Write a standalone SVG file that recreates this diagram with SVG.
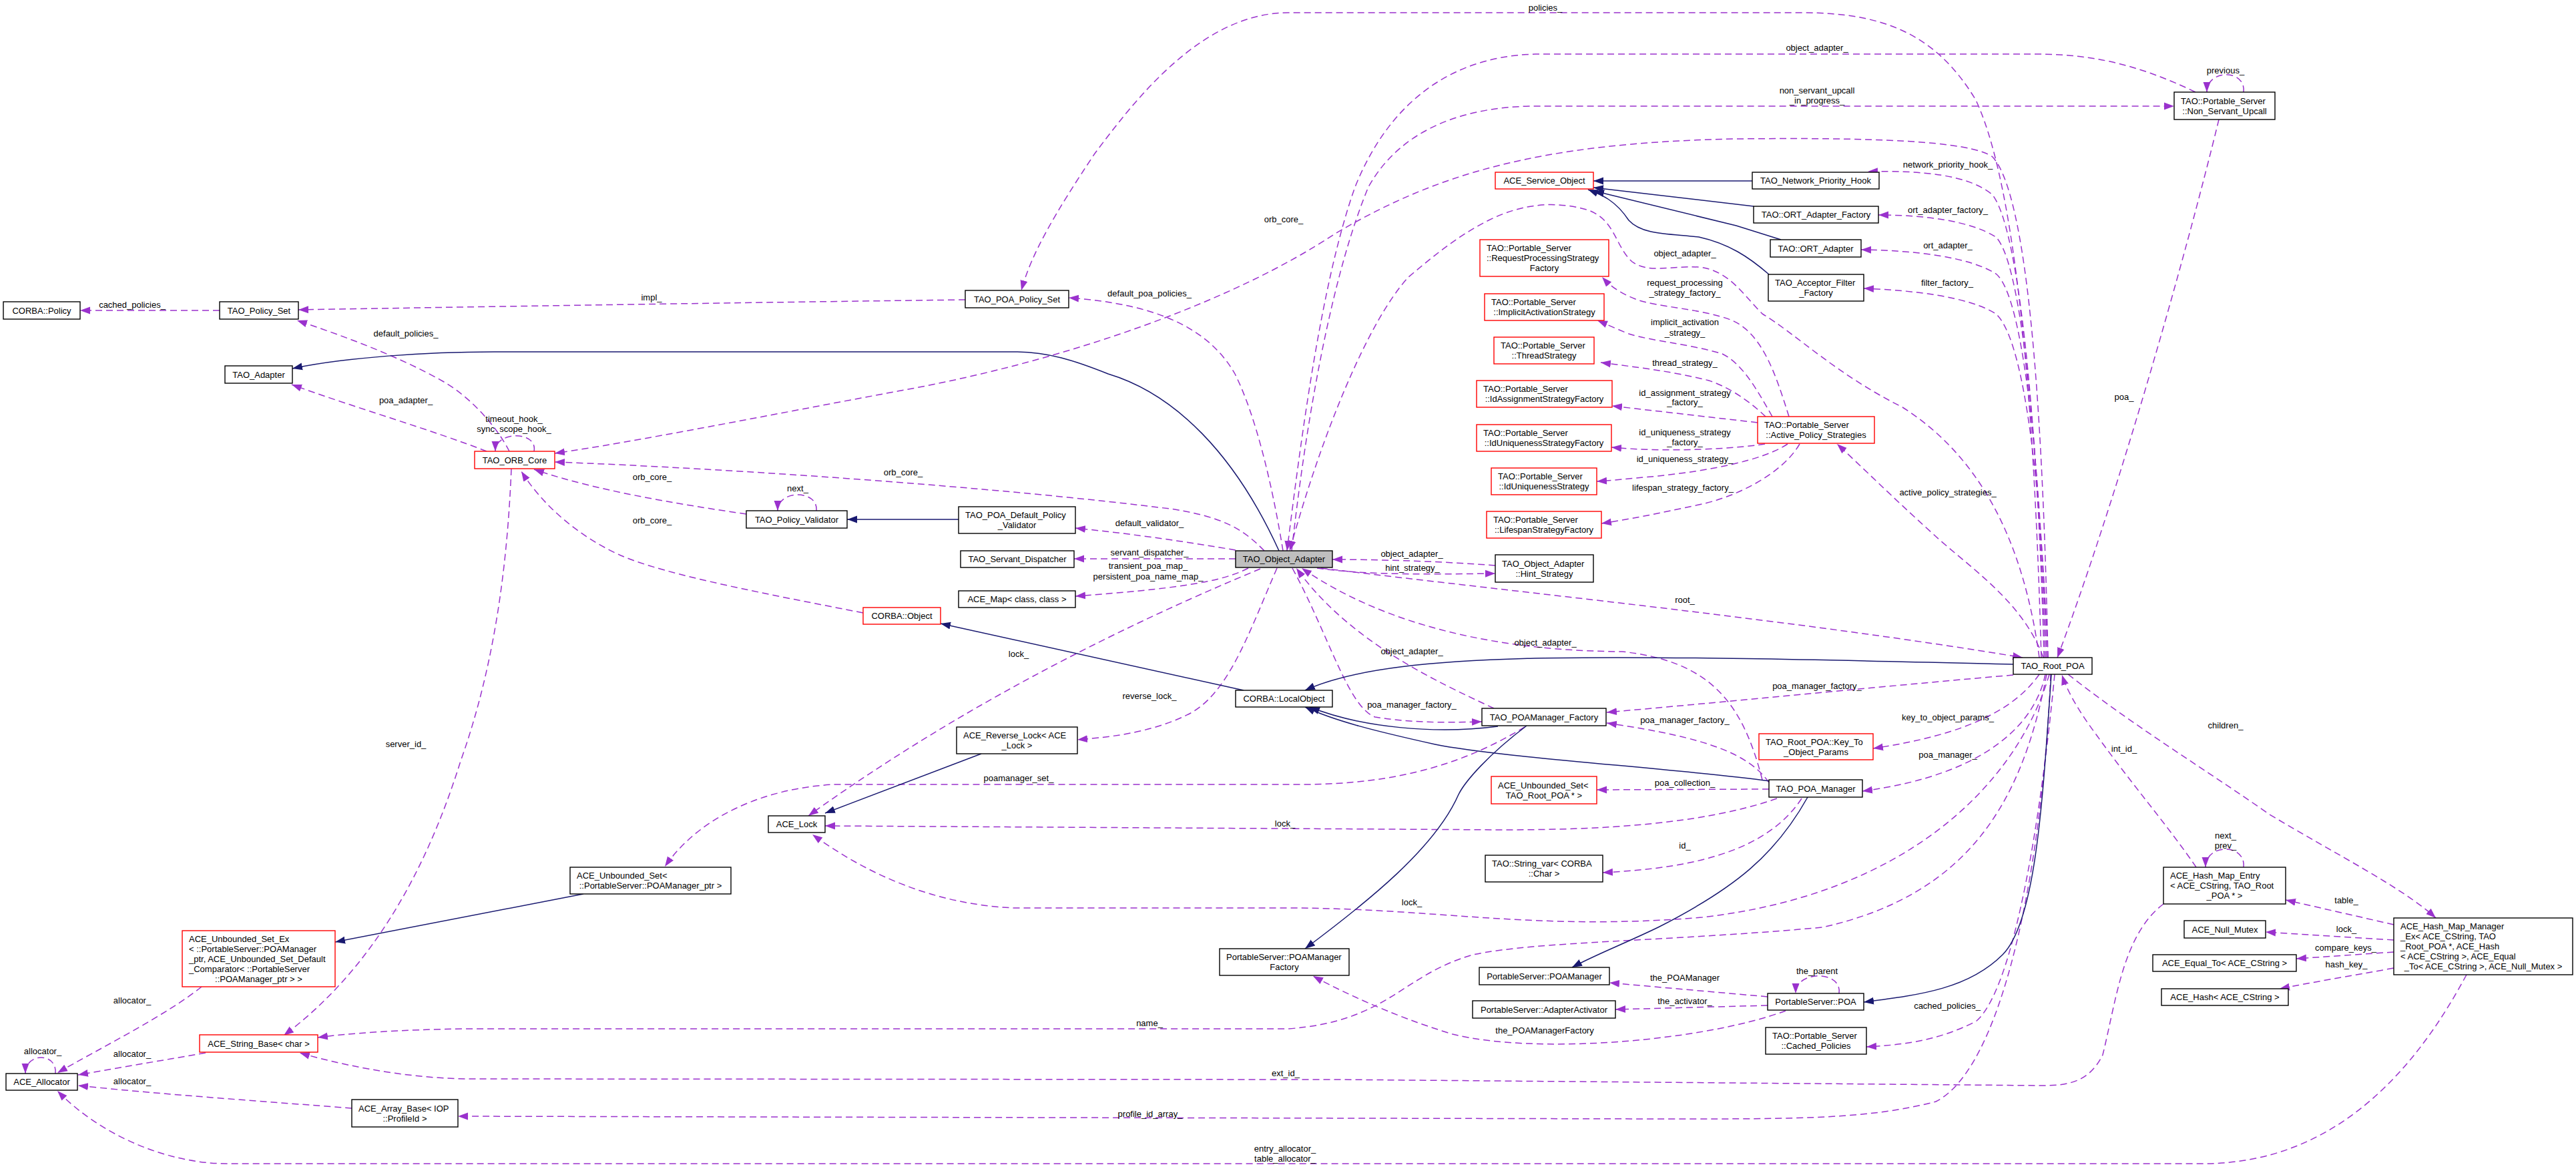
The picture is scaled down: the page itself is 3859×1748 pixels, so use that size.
<svg xmlns="http://www.w3.org/2000/svg" width="3859" height="1748" viewBox="0 0 3859 1748">
<style>
text{font-family:"Liberation Sans",Arial,sans-serif;font-size:13px;fill:#000}
.m{text-anchor:middle}
.n rect{fill:#fff;stroke:#000;stroke-width:1.4}
.r rect{fill:#fff;stroke:#ff0000;stroke-width:1.4}
.g rect{fill:#bfbfbf;stroke:#000;stroke-width:1.4}
.d{fill:none;stroke:#9a32cd;stroke-width:1.5;stroke-dasharray:10,6;marker-end:url(#ap)}
.b{fill:none;stroke:#191970;stroke-width:1.5;marker-end:url(#ab)}
</style>
<defs>
<marker id="ap" markerUnits="userSpaceOnUse" markerWidth="16" markerHeight="12" refX="15" refY="6" orient="auto"><path d="M0,0.5 L15,6 L0,11.5 z" fill="#9a32cd"/></marker>
<marker id="ab" markerUnits="userSpaceOnUse" markerWidth="16" markerHeight="12" refX="15" refY="6" orient="auto"><path d="M0,0.5 L15,6 L0,11.5 z" fill="#191970"/></marker>
</defs>
<rect width="3859" height="1748" fill="#fff"/>
<g id="edges">
<path class="d" d="M329,465 L120,465"/>
<path class="d" d="M1446,449 C1200,452 800,458 447,464"/>
<path class="d" d="M763,676 C745,640 705,595 665,572 C600,535 520,505 445,480"/>
<path class="d" d="M729,676 C650,645 530,610 437,576"/>
<path class="d" d="M800,676 C806,645 742,645 742,676"/>
<path class="d" d="M3068,985 C3062,700 3045,300 2985,235 C2950,210 2800,206 2600,208 C2300,214 2150,262 2000,350 C1850,450 1600,540 1350,585 C1150,622 950,662 831,679"/>
<path class="d" d="M1894,825 C1860,790 1830,775 1760,763 C1500,730 1100,702 831,692"/>
<path class="d" d="M1118,770 C1050,760 900,738 800,703"/>
<path class="d" d="M1293,918 C1150,890 1000,862 930,832 C870,805 815,760 781,706"/>
<path class="d" d="M766,702 C760,850 740,1000 690,1140 C640,1300 560,1450 425,1551"/>
<path class="d" d="M1223,765 C1226,733 1165,733 1165,765"/>
<path class="d" d="M1851,824 C1780,812 1700,800 1611,791"/>
<path class="d" d="M1851,837 L1609,837"/>
<path class="d" d="M1870,851 C1830,872 1760,882 1611,893"/>
<path class="d" d="M1888,852 C1700,930 1450,1050 1211,1222"/>
<path class="d" d="M1913,851 C1870,950 1840,1040 1780,1070 C1720,1100 1650,1105 1614,1108"/>
<path class="d" d="M1936,851 C1990,950 2020,1060 2060,1074 C2120,1084 2180,1082 2220,1081"/>
<path class="d" d="M2240,847 C2150,840 2050,838 1996,838"/>
<path class="d" d="M1973,851 C2050,862 2150,860 2240,859"/>
<path class="d" d="M1979,851 C2300,890 2700,930 3030,985"/>
<path class="d" d="M2238,1061 C2150,1020 2020,960 1942,851"/>
<path class="d" d="M2640,1168 C2610,1050 2560,990 2430,976 C2250,975 2080,940 1950,851"/>
<path class="d" d="M3016,1011 C2800,1030 2600,1050 2407,1067"/>
<path class="d" d="M2650,1172 C2620,1130 2560,1105 2407,1083"/>
<path class="d" d="M3055,1010 C3020,1060 2950,1100 2806,1121"/>
<path class="d" d="M3064,1010 C3050,1080 2980,1160 2790,1185"/>
<path class="d" d="M3070,1010 C3020,1180 2850,1340 2550,1374 C2300,1395 2150,1360 1930,1360 L1520,1360 C1400,1355 1300,1310 1217,1250"/>
<path class="d" d="M2662,1196 C2550,1235 2400,1243 2250,1243 L1236,1237"/>
<path class="d" d="M2284,1089 C2200,1140 2100,1175 1950,1175 L1250,1175 C1150,1180 1050,1220 996,1298"/>
<path class="d" d="M2650,1182 L2392,1183"/>
<path class="d" d="M2699,1196 C2650,1270 2550,1300 2401,1307"/>
<path class="d" d="M2648,1493 L2411,1472"/>
<path class="d" d="M2648,1506 L2420,1512"/>
<path class="d" d="M2755,1488 C2760,1453 2690,1453 2690,1488"/>
<path class="d" d="M2675,1514 C2550,1560 2300,1580 2176,1549 C2080,1520 2000,1480 1967,1462"/>
<path class="d" d="M3078,1010 C3060,1200 3020,1480 2960,1530 C2900,1560 2850,1565 2796,1568"/>
<path class="d" d="M3066,1010 C3030,1200 2950,1340 2730,1389 C2500,1410 2300,1410 2207,1430 C2100,1460 2080,1530 1930,1541 L700,1541 C600,1542 520,1548 476,1554"/>
<path class="d" d="M3241,1354 C3180,1400 3170,1500 3150,1580 C3130,1620 3100,1626 3060,1626 L2000,1617 L700,1616 C600,1615 500,1592 449,1577"/>
<path class="d" d="M3072,1010 C3060,1300 3000,1600 2900,1650 C2800,1676 2700,1676 2500,1676 L686,1672"/>
<path class="d" d="M3695,1460 C3620,1600 3500,1743 3300,1743 L340,1743 C250,1743 150,1700 86,1634"/>
<path class="d" d="M83,1608 C86,1576 38,1576 38,1608"/>
<path class="d" d="M302,1478 C250,1520 150,1570 86,1607"/>
<path class="d" d="M308,1577 L117,1610"/>
<path class="d" d="M527,1660 C400,1650 250,1640 117,1626"/>
<path class="d" d="M3058,985 C3050,700 3030,300 2960,150 C2900,50 2820,19 2700,19 L1930,19 C1800,19 1700,150 1640,230 C1580,320 1545,380 1530,435"/>
<path class="d" d="M3289,138 C3200,95 3130,81 3050,81 L2300,81 C2150,85 2070,180 2030,280 C1980,420 1950,650 1928,825"/>
<path class="d" d="M1935,825 C1960,600 2000,400 2050,280 C2100,190 2200,159 2300,159 L3257,159"/>
<path class="d" d="M1922,825 C1905,720 1880,620 1850,560 C1810,490 1730,455 1601,446"/>
<path class="d" d="M3361,138 C3365,103 3306,103 3306,138"/>
<path class="d" d="M3324,179 C3270,400 3170,750 3082,985"/>
<path class="d" d="M3062,985 C3055,700 3030,350 2985,292 C2950,262 2880,255 2798,257"/>
<path class="d" d="M3064,985 C3057,750 3035,400 2990,355 C2950,330 2880,322 2814,322"/>
<path class="d" d="M3066,985 C3060,800 3040,450 2990,410 C2950,385 2870,375 2788,374"/>
<path class="d" d="M3068,985 C3062,850 3045,520 2990,470 C2950,445 2870,435 2792,432"/>
<path class="d" d="M3061,985 C3030,900 2950,850 2895,799 C2830,740 2790,700 2752,665"/>
<path class="d" d="M3055,985 C3030,800 2960,680 2850,610 C2750,560 2690,500 2640,470 C2610,440 2590,405 2545,400 C2500,398 2470,410 2445,392 C2420,370 2420,330 2380,315 C2330,300 2280,305 2230,330 C2180,355 2140,390 2110,415 C2050,480 1980,650 1932,825"/>
<path class="d" d="M2680,624 C2660,560 2640,500 2595,480 C2550,462 2480,460 2450,448 C2425,438 2412,428 2400,415"/>
<path class="d" d="M2655,624 C2630,580 2610,545 2580,530 C2530,515 2470,510 2440,500 C2420,492 2405,485 2393,480"/>
<path class="d" d="M2645,624 C2620,600 2590,580 2560,570 C2500,555 2450,550 2398,543"/>
<path class="d" d="M2633,633 L2415,608"/>
<path class="d" d="M2644,665 C2600,672 2500,678 2414,670"/>
<path class="d" d="M2678,665 C2640,690 2560,705 2484,713 C2440,717 2410,720 2392,721"/>
<path class="d" d="M2696,665 C2670,710 2600,745 2545,756 C2480,770 2440,778 2399,784"/>
<path class="d" d="M3290,1299 C3250,1240 3190,1170 3140,1100 C3110,1060 3095,1030 3089,1011"/>
<path class="d" d="M3098,1010 C3200,1090 3300,1150 3400,1220 C3500,1280 3600,1330 3649,1375"/>
<path class="d" d="M3361,1299 C3365,1263 3304,1263 3304,1299"/>
<path class="d" d="M3586,1385 L3424,1348"/>
<path class="d" d="M3586,1408 L3394,1396"/>
<path class="d" d="M3586,1426 L3440,1436"/>
<path class="d" d="M3586,1450 C3520,1462 3460,1472 3415,1481"/>
<path class="b" d="M1916,825 C1850,680 1760,590 1660,560 C1610,540 1570,527 1520,527 L740,527 C640,527 520,535 438,552"/>
<path class="b" d="M1436,778 L1269,778"/>
<path class="b" d="M1863,1034 L1409,934"/>
<path class="b" d="M1470,1129 L1236,1218"/>
<path class="b" d="M874,1339 L502,1411"/>
<path class="b" d="M2244,1088 C2150,1100 2040,1090 1962,1059"/>
<path class="b" d="M2652,1170 C2500,1150 2250,1135 2150,1115 C2060,1095 2000,1080 1955,1059"/>
<path class="b" d="M3016,995 C2800,990 2500,982 2299,986 C2150,990 2030,1000 1955,1034"/>
<path class="b" d="M2287,1087 C2230,1130 2195,1170 2185,1190 C2150,1270 2050,1350 1955,1421"/>
<path class="b" d="M2708,1194 C2660,1280 2600,1330 2484,1389 C2430,1415 2390,1430 2355,1449"/>
<path class="b" d="M3073,1010 C3060,1200 3050,1380 3000,1430 C2950,1480 2880,1490 2792,1501"/>
<path class="b" d="M2625,271 L2387,271"/>
<path class="b" d="M2627,309 L2387,281"/>
<path class="b" d="M2668,359 L2601,338 L2388,286"/>
<path class="b" d="M2650,411 C2620,385 2590,365 2545,355 C2500,350 2460,352 2440,330 C2420,300 2400,292 2379,284"/>
<g class="m">
<text x="198" y="461">cached_policies_</text>
<text x="976" y="450">impl_</text>
<text x="608" y="504">default_policies_</text>
<text x="1722" y="444">default_poa_policies_</text>
<text x="1923" y="333">orb_core_</text>
<text x="608" y="604">poa_adapter_</text>
<text x="770" y="632">timeout_hook_</text>
<text x="770" y="647">sync_scope_hook_</text>
<text x="1353" y="712">orb_core_</text>
<text x="977" y="719">orb_core_</text>
<text x="977" y="784">orb_core_</text>
<text x="1195" y="736">next_</text>
<text x="1722" y="788">default_validator_</text>
<text x="1722" y="832">servant_dispatcher_</text>
<text x="1720" y="852">transient_poa_map_</text>
<text x="1720" y="868">persistent_poa_name_map_</text>
<text x="1526" y="984">lock_</text>
<text x="1722" y="1047">reverse_lock_</text>
<text x="608" y="1119">server_id_</text>
<text x="1526" y="1170">poamanager_set_</text>
<text x="1925" y="1238">lock_</text>
<text x="2115" y="1356">lock_</text>
<text x="1722" y="1537">name_</text>
<text x="1926" y="1612">ext_id_</text>
<text x="1723" y="1673">profile_id_array_</text>
<text x="1925" y="1725">entry_allocator_</text>
<text x="1925" y="1740">table_allocator_</text>
<text x="64" y="1579">allocator_</text>
<text x="198" y="1503">allocator_</text>
<text x="198" y="1583">allocator_</text>
<text x="198" y="1624">allocator_</text>
<text x="2315" y="16">policies_</text>
<text x="2722" y="76">object_adapter_</text>
<text x="2722" y="140">non_servant_upcall</text>
<text x="2722" y="155">_in_progress_</text>
<text x="3334" y="110">previous_</text>
<text x="2918" y="251">network_priority_hook_</text>
<text x="2918" y="319">ort_adapter_factory_</text>
<text x="2918" y="372">ort_adapter_</text>
<text x="2917" y="428">filter_factory_</text>
<text x="2524" y="384">object_adapter_</text>
<text x="2524" y="428">request_processing</text>
<text x="2524" y="443">_strategy_factory_</text>
<text x="2524" y="487">implicit_activation</text>
<text x="2524" y="503">_strategy_</text>
<text x="2524" y="548">thread_strategy_</text>
<text x="2524" y="593">id_assignment_strategy</text>
<text x="2524" y="607">_factory_</text>
<text x="2524" y="652">id_uniqueness_strategy</text>
<text x="2524" y="667">_factory_</text>
<text x="2524" y="692">id_uniqueness_strategy_</text>
<text x="2521" y="735">lifespan_strategy_factory_</text>
<text x="2918" y="742">active_policy_strategies_</text>
<text x="2115" y="834">object_adapter_</text>
<text x="2116" y="855">hint_strategy_</text>
<text x="2524" y="903">root_</text>
<text x="2315" y="967">object_adapter_</text>
<text x="2115" y="980">object_adapter_</text>
<text x="2722" y="1032">poa_manager_factory_</text>
<text x="2115" y="1060">poa_manager_factory_</text>
<text x="2524" y="1083">poa_manager_factory_</text>
<text x="2918" y="1079">key_to_object_params_</text>
<text x="2918" y="1135">poa_manager_</text>
<text x="2524" y="1177">poa_collection_</text>
<text x="2524" y="1271">id_</text>
<text x="2524" y="1469">the_POAManager</text>
<text x="2524" y="1504">the_activator_</text>
<text x="2722" y="1459">the_parent</text>
<text x="2314" y="1548">the_POAManagerFactory</text>
<text x="2917" y="1511">cached_policies_</text>
<text x="3182" y="599">poa_</text>
<text x="3182" y="1126">int_id_</text>
<text x="3334" y="1091">children_</text>
<text x="3334" y="1256">next_</text>
<text x="3334" y="1271">prev_</text>
<text x="3515" y="1353">table_</text>
<text x="3515" y="1396">lock_</text>
<text x="3514" y="1424">compare_keys_</text>
<text x="3515" y="1449">hash_key_</text>
</g>
</g>
<g id="n1" class="n"><rect x="5" y="452" width="115" height="26"/><text class="m" x="62.5" y="469.5">CORBA::Policy</text></g>
<g id="n2" class="n"><rect x="329" y="452" width="118" height="26"/><text class="m" x="388" y="469.5">TAO_Policy_Set</text></g>
<g id="n3" class="n"><rect x="337" y="548" width="101" height="26"/><text class="m" x="387.5" y="565.5">TAO_Adapter</text></g>
<g id="n4" class="n"><rect x="1446" y="435" width="155" height="26"/><text class="m" x="1523.5" y="452.5">TAO_POA_Policy_Set</text></g>
<g id="n5" class="r"><rect x="711" y="676" width="120" height="26"/><text class="m" x="771" y="693.5">TAO_ORB_Core</text></g>
<g id="n6" class="n"><rect x="1118" y="765" width="151" height="26"/><text class="m" x="1193.5" y="782.5">TAO_Policy_Validator</text></g>
<g id="n7" class="n"><rect x="1436" y="759" width="175" height="40"/><text x="1446" y="776">TAO_POA_Default_Policy</text><text class="m" x="1523.5" y="791">_Validator</text></g>
<g id="n8" class="n"><rect x="1439" y="825" width="170" height="25"/><text class="m" x="1524" y="842">TAO_Servant_Dispatcher</text></g>
<g id="n9" class="n"><rect x="1436" y="885" width="175" height="25"/><text class="m" x="1523.5" y="902">ACE_Map&lt; class, class &gt;</text></g>
<g id="n10" class="r"><rect x="1293" y="910" width="116" height="25"/><text class="m" x="1351" y="927">CORBA::Object</text></g>
<g id="n11" class="g"><rect x="1851" y="825" width="145" height="25"/><text class="m" x="1923.5" y="842">TAO_Object_Adapter</text></g>
<g id="n12" class="n"><rect x="1851" y="1034" width="145" height="25"/><text class="m" x="1923.5" y="1051">CORBA::LocalObject</text></g>
<g id="n13" class="n"><rect x="1433" y="1089" width="181" height="40"/><text x="1443" y="1106">ACE_Reverse_Lock&lt; ACE</text><text class="m" x="1523.5" y="1121">_Lock &gt;</text></g>
<g id="n14" class="n"><rect x="1151" y="1222" width="85" height="25"/><text class="m" x="1193.5" y="1239">ACE_Lock</text></g>
<g id="n15" class="n"><rect x="854" y="1299" width="241" height="40"/><text x="864" y="1316">ACE_Unbounded_Set&lt;</text><text class="m" x="974.5" y="1331">::PortableServer::POAManager_ptr &gt;</text></g>
<g id="n16" class="r"><rect x="273" y="1394" width="229" height="84"/><text x="283" y="1410.5">ACE_Unbounded_Set_Ex</text><text x="283" y="1425.5">&lt; ::PortableServer::POAManager</text><text x="283" y="1440.5">_ptr, ACE_Unbounded_Set_Default</text><text x="283" y="1455.5">_Comparator&lt; ::PortableServer</text><text class="m" x="387.5" y="1470.5">::POAManager_ptr &gt; &gt;</text></g>
<g id="n17" class="r"><rect x="299" y="1550" width="177" height="26"/><text class="m" x="387.5" y="1567.5">ACE_String_Base&lt; char &gt;</text></g>
<g id="n18" class="n"><rect x="9" y="1608" width="107" height="25"/><text class="m" x="62.5" y="1625">ACE_Allocator</text></g>
<g id="n19" class="n"><rect x="527" y="1647" width="159" height="41"/><text x="537" y="1664.5">ACE_Array_Base&lt; IOP</text><text class="m" x="606.5" y="1679.5">::ProfileId &gt;</text></g>
<g id="n20" class="n"><rect x="1827" y="1421" width="194" height="40"/><text x="1837" y="1438">PortableServer::POAManager</text><text class="m" x="1924" y="1453">Factory</text></g>
<g id="n21" class="n"><rect x="2220" y="1061" width="186" height="26"/><text class="m" x="2313" y="1078.5">TAO_POAManager_Factory</text></g>
<g id="n22" class="r"><rect x="2234" y="1163" width="158" height="41"/><text x="2244" y="1180.5">ACE_Unbounded_Set&lt;</text><text class="m" x="2313" y="1195.5">TAO_Root_POA * &gt;</text></g>
<g id="n23" class="n"><rect x="2650" y="1168" width="140" height="26"/><text class="m" x="2720" y="1185.5">TAO_POA_Manager</text></g>
<g id="n24" class="n"><rect x="2225" y="1281" width="176" height="40"/><text x="2235" y="1298">TAO::String_var&lt; CORBA</text><text class="m" x="2313" y="1313">::Char &gt;</text></g>
<g id="n25" class="n"><rect x="2216" y="1449" width="195" height="26"/><text class="m" x="2313.5" y="1466.5">PortableServer::POAManager</text></g>
<g id="n26" class="n"><rect x="2206" y="1499" width="214" height="26"/><text class="m" x="2313" y="1516.5">PortableServer::AdapterActivator</text></g>
<g id="n27" class="n"><rect x="2648" y="1488" width="144" height="25"/><text class="m" x="2720" y="1505">PortableServer::POA</text></g>
<g id="n28" class="n"><rect x="2645" y="1539" width="151" height="40"/><text x="2655" y="1556">TAO::Portable_Server</text><text class="m" x="2720.5" y="1571">::Cached_Policies</text></g>
<g id="n29" class="r"><rect x="2635" y="1099" width="171" height="39"/><text x="2645" y="1115.5">TAO_Root_POA::Key_To</text><text class="m" x="2720.5" y="1130.5">_Object_Params</text></g>
<g id="n30" class="n"><rect x="3016" y="985" width="118" height="25"/><text class="m" x="3075" y="1002">TAO_Root_POA</text></g>
<g id="n31" class="r"><rect x="2240" y="258" width="147" height="25"/><text class="m" x="2313.5" y="275">ACE_Service_Object</text></g>
<g id="n32" class="n"><rect x="2625" y="258" width="190" height="25"/><text class="m" x="2720" y="275">TAO_Network_Priority_Hook</text></g>
<g id="n33" class="n"><rect x="2627" y="309" width="187" height="25"/><text class="m" x="2720.5" y="326">TAO::ORT_Adapter_Factory</text></g>
<g id="n34" class="n"><rect x="2652" y="359" width="136" height="26"/><text class="m" x="2720" y="376.5">TAO::ORT_Adapter</text></g>
<g id="n35" class="n"><rect x="2649" y="411" width="143" height="40"/><text x="2659" y="428">TAO_Acceptor_Filter</text><text class="m" x="2720.5" y="443">_Factory</text></g>
<g id="n36" class="r"><rect x="2217" y="359" width="193" height="55"/><text x="2227" y="376">TAO::Portable_Server</text><text x="2227" y="391">::RequestProcessingStrategy</text><text class="m" x="2313.5" y="406">Factory</text></g>
<g id="n37" class="r"><rect x="2224" y="440" width="179" height="40"/><text x="2234" y="457">TAO::Portable_Server</text><text class="m" x="2313.5" y="472">::ImplicitActivationStrategy</text></g>
<g id="n38" class="r"><rect x="2238" y="505" width="150" height="40"/><text x="2248" y="522">TAO::Portable_Server</text><text class="m" x="2313" y="537">::ThreadStrategy</text></g>
<g id="n39" class="r"><rect x="2212" y="570" width="203" height="40"/><text x="2222" y="587">TAO::Portable_Server</text><text class="m" x="2313.5" y="602">::IdAssignmentStrategyFactory</text></g>
<g id="n40" class="r"><rect x="2212" y="636" width="202" height="40"/><text x="2222" y="653">TAO::Portable_Server</text><text class="m" x="2313" y="668">::IdUniquenessStrategyFactory</text></g>
<g id="n41" class="r"><rect x="2234" y="701" width="158" height="40"/><text x="2244" y="718">TAO::Portable_Server</text><text class="m" x="2313" y="733">::IdUniquenessStrategy</text></g>
<g id="n42" class="r"><rect x="2227" y="766" width="172" height="40"/><text x="2237" y="783">TAO::Portable_Server</text><text class="m" x="2313" y="798">::LifespanStrategyFactory</text></g>
<g id="n43" class="r"><rect x="2633" y="624" width="175" height="40"/><text x="2643" y="641">TAO::Portable_Server</text><text class="m" x="2720.5" y="656">::Active_Policy_Strategies</text></g>
<g id="n44" class="n"><rect x="2240" y="831" width="147" height="41"/><text x="2250" y="848.5">TAO_Object_Adapter</text><text class="m" x="2313.5" y="863.5">::Hint_Strategy</text></g>
<g id="n45" class="n"><rect x="3257" y="138" width="151" height="41"/><text x="3267" y="155.5">TAO::Portable_Server</text><text class="m" x="3332.5" y="170.5">::Non_Servant_Upcall</text></g>
<g id="n46" class="n"><rect x="3241" y="1299" width="183" height="55"/><text x="3251" y="1316">ACE_Hash_Map_Entry</text><text x="3251" y="1331">&lt; ACE_CString, TAO_Root</text><text class="m" x="3332.5" y="1346">_POA * &gt;</text></g>
<g id="n47" class="n"><rect x="3272" y="1379" width="122" height="26"/><text class="m" x="3333" y="1396.5">ACE_Null_Mutex</text></g>
<g id="n48" class="n"><rect x="3225" y="1430" width="215" height="25"/><text class="m" x="3332.5" y="1447">ACE_Equal_To&lt; ACE_CString &gt;</text></g>
<g id="n49" class="n"><rect x="3238" y="1481" width="190" height="25"/><text class="m" x="3333" y="1498">ACE_Hash&lt; ACE_CString &gt;</text></g>
<g id="n50" class="n"><rect x="3586" y="1375" width="268" height="85"/><text x="3596" y="1392">ACE_Hash_Map_Manager</text><text x="3596" y="1407">_Ex&lt; ACE_CString, TAO</text><text x="3596" y="1422">_Root_POA *, ACE_Hash</text><text x="3596" y="1437">&lt; ACE_CString &gt;, ACE_Equal</text><text class="m" x="3720" y="1452">_To&lt; ACE_CString &gt;, ACE_Null_Mutex &gt;</text></g>
</svg>
